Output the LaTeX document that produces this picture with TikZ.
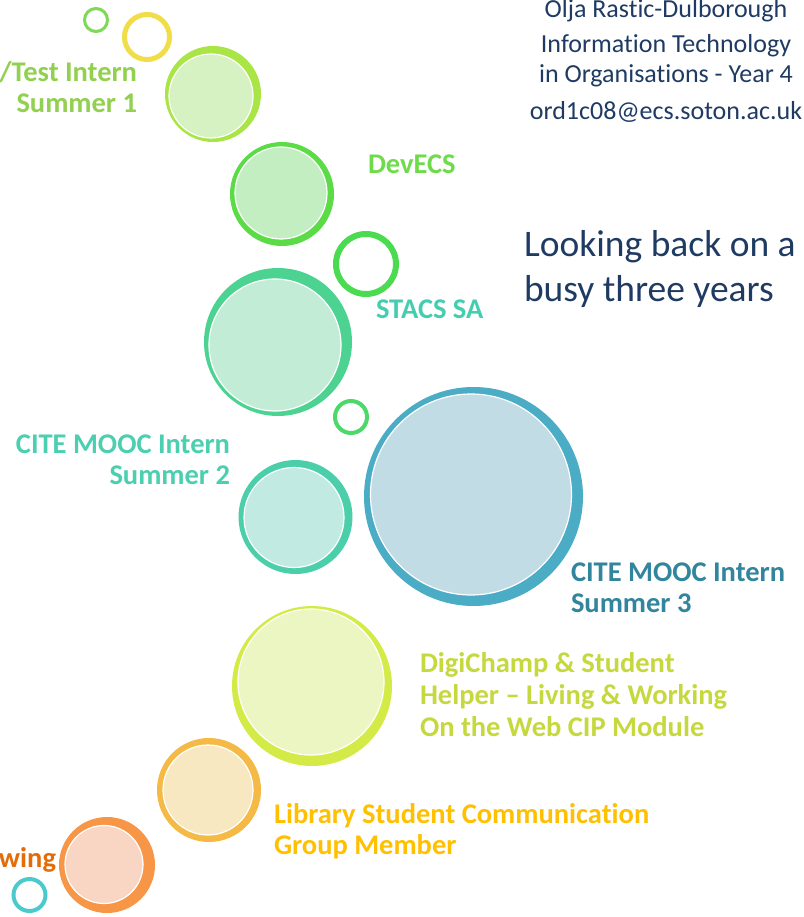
\documentclass[tikz,border=0pt]{standalone}
\usepackage{fontspec}
\setmainfont{Carlito}[Ligatures={TeX,NoCommon}]
\definecolor{navy}{HTML}{1F3B63}
\definecolor{ringA}{HTML}{7ED957}
\definecolor{ringB}{HTML}{F0DD48}
\definecolor{ringC}{HTML}{4ADB50}
\definecolor{ringD}{HTML}{4CD96A}
\definecolor{ringE}{HTML}{4BCACD}
\definecolor{oneO}{HTML}{A8E545}\definecolor{oneI}{HTML}{D6F2C3}\definecolor{oneT}{HTML}{92D050}
\definecolor{twoO}{HTML}{5BDB45}\definecolor{twoI}{HTML}{C2EEC2}\definecolor{twoT}{HTML}{6EDC4A}
\definecolor{thrO}{HTML}{4CD391}\definecolor{thrI}{HTML}{C2ECD6}\definecolor{thrT}{HTML}{45CDB0}
\definecolor{fouO}{HTML}{4BCFAB}\definecolor{fouI}{HTML}{C1EAE3}\definecolor{fouT}{HTML}{4BCFB0}
\definecolor{fivO}{HTML}{4BACC6}\definecolor{fivI}{HTML}{C1DCE5}\definecolor{fivT}{HTML}{31859C}
\definecolor{sixO}{HTML}{D4EB47}\definecolor{sixI}{HTML}{EBF6C2}\definecolor{sixT}{HTML}{C5D93F}
\definecolor{sevO}{HTML}{F4BA45}\definecolor{sevI}{HTML}{F7E8C1}\definecolor{sevT}{HTML}{FFC000}
\definecolor{eigO}{HTML}{F79646}\definecolor{eigI}{HTML}{F9D6C4}\definecolor{eigT}{HTML}{E36C09}
\begin{document}
\begin{tikzpicture}[x=1pt,y=-1pt,
  outerb/.style={circle, inner sep=0pt, outer sep=0pt, draw=none, minimum size=#1},
  innerb/.style={circle, inner sep=0pt, outer sep=0pt, draw=white, line width=1.2pt, minimum size=#1},
  ringc/.style={circle, inner sep=0pt, outer sep=0pt, fill=none, minimum size=#1},
  lbl/.style={font=\bfseries\fontsize{28.5}{31}\selectfont, inner sep=0pt, outer sep=0pt},
  info/.style={font=\fontsize{26}{34}\selectfont, inner sep=0pt, outer sep=0pt, text=navy, align=center},
  title/.style={font=\fontsize{37.5}{45}\selectfont, inner sep=0pt, outer sep=0pt, text=navy, align=left}]
\useasboundingbox[fill=white] (0,0) rectangle (803,917);

% small rings
\node[ringc=23pt, draw=ringA, line width=3pt] (ra) at (96,20) {};
\node[ringc=45pt, draw=ringB, line width=5pt] (rb) at (147,37) {};
\node[ringc=60pt, draw=ringC, line width=6pt] (rc) at (366,264) {};
\node[ringc=32pt, draw=ringD, line width=4pt] (rd) at (351,417) {};
\node[ringc=32pt, draw=ringE, line width=4pt] (re) at (29.5,895) {};

% bubbles
\node[outerb=96pt, fill=oneO] (b1o) at (213,94) {};
\node[innerb=84pt, fill=oneI] (b1i) at (211,96) {};
\node[outerb=104pt, fill=twoO] (b2o) at (282,194) {};
\node[innerb=92pt, fill=twoI] (b2i) at (281,193) {};
\node[outerb=148pt, fill=thrO] (b3o) at (278,342) {};
\node[innerb=132pt, fill=thrI] (b3i) at (275,345) {};
\node[outerb=114pt, fill=fouO] (b4o) at (295.5,517) {};
\node[innerb=100pt, fill=fouI] (b4i) at (294,517.5) {};
\node[outerb=219pt, fill=fivO] (b5o) at (473.5,496.5) {};
\node[innerb=201pt, fill=fivI] (b5i) at (471,494.5) {};
\node[outerb=160pt, fill=sixO] (b6o) at (312,686) {};
\node[innerb=146pt, fill=sixI] (b6i) at (311,682) {};
\node[outerb=104pt, fill=sevO] (b7o) at (209,790) {};
\node[innerb=90pt, fill=sevI] (b7i) at (208,790) {};
\node[outerb=96pt, fill=eigO] (b8o) at (107,865) {};
\node[innerb=78pt, fill=eigI] (b8i) at (104,864.5) {};

% labels (base anchor = baseline of last line)
\node[lbl, text=oneT, align=right, anchor=base east] (t1) at (137,113) {/Test Intern\\Summer 1};
\node[lbl, text=twoT, anchor=base west] (t2) at (368,174) {DevECS};
\node[lbl, text=thrT, anchor=base west] (t3) at (376,318) {STACS SA};
\node[lbl, text=fouT, align=right, anchor=base east] (t4) at (230,484) {CITE MOOC Intern\\Summer 2};
\node[lbl, text=fivT, align=left, anchor=base west] (t5) at (571,612) {CITE MOOC Intern\\Summer 3};
\node[lbl, text=sixT, align=left, anchor=base west, font=\bfseries\fontsize{28.5}{32}\selectfont] (t6) at (420,736) {DigiChamp \& Student\\Helper – Living \& Working\\On the Web CIP Module};
\node[lbl, text=sevT, align=left, anchor=base west] (t7) at (274,854) {Library Student Communication\\Group Member};
\node[lbl, text=eigT, anchor=base east] (t8) at (56,867) {wing};

% header
\node[info, anchor=base] (hd) at (666,120) {Olja Rastic-Dulborough\\[1pt]Information Technology\\[-4pt]in Organisations - Year 4\\[3pt]ord1c08@ecs.soton.ac.uk};
\node[title, anchor=base west] (tt) at (524,301) {Looking back on a\\busy three years};
\end{tikzpicture}
\end{document}
